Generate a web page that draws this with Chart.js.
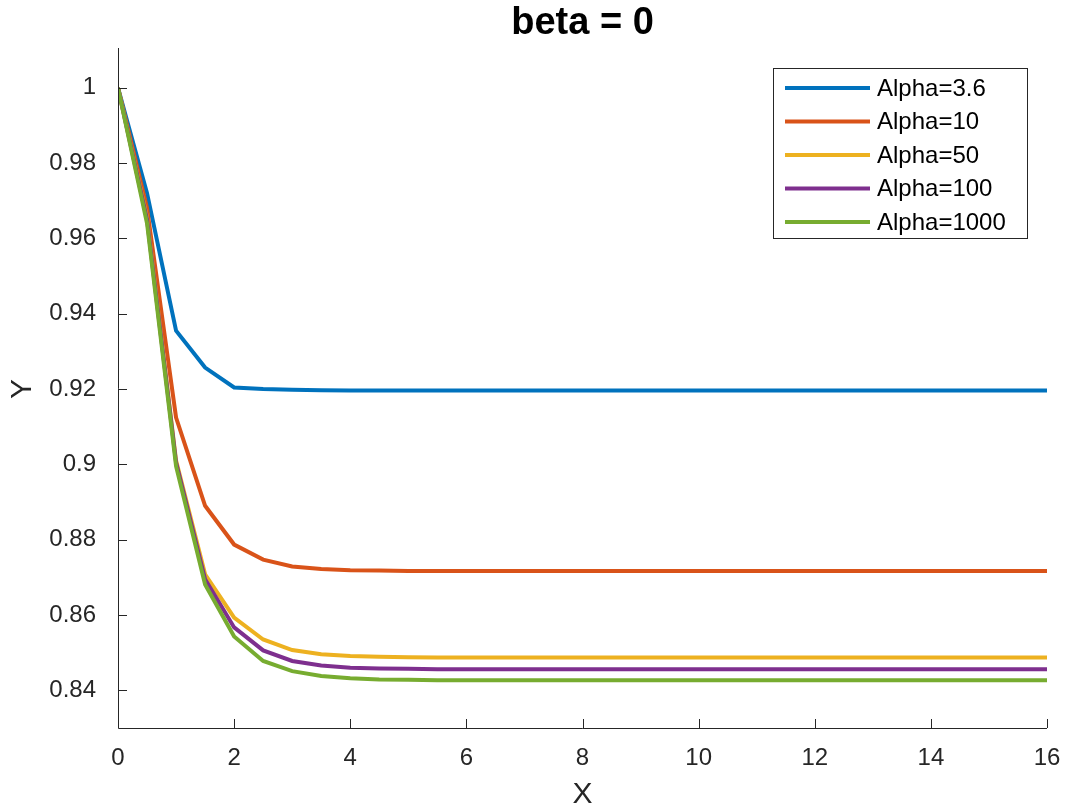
<!DOCTYPE html>
<html>
<head>
<meta charset="utf-8">
<script src="https://cdn.jsdelivr.net/npm/chart.js@4/dist/chart.umd.min.js"></script>
<style>
  html, body { margin: 0; padding: 0; background: #fff; }
  #wrap { width: 1070px; height: 810px; }
</style>
</head>
<body>
<div id="wrap"><canvas id="chart" width="1070" height="810"></canvas></div>
<script>
// data
const xs = [0, 0.5, 1, 1.5, 2, 2.5, 3, 3.5, 4, 4.5, 5, 5.5, 6, 6.5, 7, 7.5, 8, 8.5, 9, 9.5, 10,
            10.5, 11, 11.5, 12, 12.5, 13, 13.5, 14, 14.5, 15, 15.5, 16];
const alpha36 = [1, 0.972, 0.9355, 0.9257, 0.9204, 0.9200, 0.9198, 0.9197, 0.9196, 0.9196, 0.9196,
  0.9196, 0.9196, 0.9196, 0.9196, 0.9196, 0.9196, 0.9196, 0.9196, 0.9196, 0.9196, 0.9196, 0.9196,
  0.9196, 0.9196, 0.9196, 0.9196, 0.9196, 0.9196, 0.9196, 0.9196, 0.9196, 0.9196];
const alpha10 = [1, 0.968, 0.9124, 0.8890, 0.8787, 0.8747, 0.8729, 0.8722, 0.8719, 0.8718, 0.8717,
  0.8717, 0.8717, 0.8717, 0.8717, 0.8717, 0.8717, 0.8717, 0.8717, 0.8717, 0.8717, 0.8717, 0.8717,
  0.8717, 0.8717, 0.8717, 0.8717, 0.8717, 0.8717, 0.8717, 0.8717, 0.8717, 0.8717];
const alpha50 = [1, 0.9655, 0.9010, 0.8708, 0.8593, 0.8535, 0.8507, 0.8496, 0.8491, 0.8489, 0.8488,
  0.8487, 0.8487, 0.8487, 0.8487, 0.8487, 0.8487, 0.8487, 0.8487, 0.8487, 0.8487, 0.8487, 0.8487,
  0.8487, 0.8487, 0.8487, 0.8487, 0.8487, 0.8487, 0.8487, 0.8487, 0.8487, 0.8487];
const alpha100 = [1, 0.965, 0.9005, 0.8695, 0.8567, 0.8506, 0.8478, 0.8466, 0.8460, 0.8458, 0.8457,
  0.8456, 0.8456, 0.8456, 0.8456, 0.8456, 0.8456, 0.8456, 0.8456, 0.8456, 0.8456, 0.8456, 0.8456,
  0.8456, 0.8456, 0.8456, 0.8456, 0.8456, 0.8456, 0.8456, 0.8456, 0.8456, 0.8456];
const alpha1000 = [1, 0.964, 0.8995, 0.8681, 0.8543, 0.8478, 0.8451, 0.8438, 0.8432, 0.8429, 0.8428,
  0.8427, 0.8427, 0.8427, 0.8427, 0.8427, 0.8427, 0.8427, 0.8427, 0.8427, 0.8427, 0.8427, 0.8427,
  0.8427, 0.8427, 0.8427, 0.8427, 0.8427, 0.8427, 0.8427, 0.8427, 0.8427, 0.8427];

const seriesNames = ['Alpha=3.6', 'Alpha=10', 'Alpha=50', 'Alpha=100', 'Alpha=1000'];
const seriesValues = [alpha36, alpha10, alpha50, alpha100, alpha1000];
const seriesColors = ['#0072BD', '#D95319', '#EDB120', '#7E2F8E', '#77AC30'];

const xTicks = [0, 2, 4, 6, 8, 10, 12, 14, 16];
const yTicks = [0.84, 0.86, 0.88, 0.9, 0.92, 0.94, 0.96, 0.98, 1];

const FONT = 'Liberation Sans, Arial, sans-serif';
const AXIS = '#262626';

// title, axis names, inward ticks, axis lines and the boxed legend, matlab style
const matlabLook = {
    id: 'matlabLook',
    afterDraw(chart) {
        const ctx = chart.ctx;
        const a = chart.chartArea;
        const xs_ = chart.scales.x, ys_ = chart.scales.y;
        ctx.save();

        // axis lines
        ctx.strokeStyle = AXIS;
        ctx.lineWidth = 1;
        ctx.beginPath();
        ctx.moveTo(a.left + 0.5, a.top - 2);
        ctx.lineTo(a.left + 0.5, a.bottom + 0.5);
        ctx.lineTo(a.right, a.bottom + 0.5);
        ctx.stroke();

        // inward ticks
        ctx.beginPath();
        xTicks.forEach(v => {
            const px = Math.round(xs_.getPixelForValue(v)) + 0.5;
            ctx.moveTo(px, a.bottom);
            ctx.lineTo(px, a.bottom - 9);
        });
        yTicks.forEach(v => {
            const py = Math.round(ys_.getPixelForValue(v)) + 0.5;
            ctx.moveTo(a.left, py);
            ctx.lineTo(a.left + 9, py);
        });
        ctx.stroke();

        // title
        ctx.fillStyle = '#000';
        ctx.font = 'bold 38px ' + FONT;
        ctx.textAlign = 'center';
        ctx.textBaseline = 'middle';
        ctx.fillText('beta = 0', (a.left + a.right) / 2, 24);

        // axis names
        ctx.fillStyle = AXIS;
        ctx.font = '30px ' + FONT;
        ctx.fillText('X', (a.left + a.right) / 2, 795);
        ctx.save();
        ctx.translate(23, (a.top + a.bottom) / 2);
        ctx.rotate(-Math.PI / 2);
        ctx.fillText('Y', 0, 0);
        ctx.restore();

        // legend box
        const lx = 773, ly = 68, lw = 254, lh = 170;
        ctx.fillStyle = '#fff';
        ctx.fillRect(lx, ly, lw, lh);
        ctx.strokeStyle = AXIS;
        ctx.lineWidth = 1;
        ctx.strokeRect(lx + 0.5, ly + 0.5, lw, lh);
        ctx.font = '24px ' + FONT;
        ctx.textAlign = 'left';
        chart.data.datasets.forEach((ds, i) => {
            const cy = ly + 20 + i * 33.5;
            ctx.strokeStyle = ds.borderColor;
            ctx.lineWidth = 4;
            ctx.beginPath();
            ctx.moveTo(lx + 12, cy);
            ctx.lineTo(lx + 97, cy);
            ctx.stroke();
            ctx.fillStyle = '#000';
            ctx.fillText(ds.label, lx + 104, cy + 1);
        });
        ctx.restore();
    }
};

new Chart(document.getElementById('chart'), {
    type: 'line',
    data: {
        labels: xs,
        datasets: seriesNames.map((name, i) => ({
            label: name,
            data: xs.map((x, j) => ({ x: x, y: seriesValues[i][j] })),
            borderColor: seriesColors[i],
            backgroundColor: seriesColors[i],
            borderWidth: 4,
            pointRadius: 0,
            tension: 0,
            fill: false,
            order: seriesNames.length - i
        }))
    },
    options: {
        responsive: false,
        animation: false,
        layout: { padding: { top: 50, right: 23, left: 0, bottom: 0 } },
        plugins: {
            legend: { display: false },
            title: { display: false },
            tooltip: { enabled: false }
        },
        scales: {
            x: {
                type: 'linear',
                min: 0,
                max: 16,
                grid: { display: false },
                border: { display: false },
                afterBuildTicks: s => { s.ticks = xTicks.map(v => ({ value: v })); },
                afterFit: s => { s.height = 82; },
                ticks: {
                    color: AXIS,
                    padding: 8,
                    font: { family: FONT, size: 24 },
                    maxRotation: 0,
                    callback: v => String(v)
                }
            },
            y: {
                type: 'linear',
                min: 0.83,
                max: 1.01,
                grid: { display: false },
                border: { display: false },
                afterBuildTicks: s => { s.ticks = yTicks.map(v => ({ value: v })); },
                afterFit: s => { s.width = 118; },
                ticks: {
                    color: AXIS,
                    padding: 14,
                    font: { family: FONT, size: 24 },
                    callback: v => String(+v.toFixed(2))
                }
            }
        }
    },
    plugins: [matlabLook]
});
</script>
</body>
</html>
